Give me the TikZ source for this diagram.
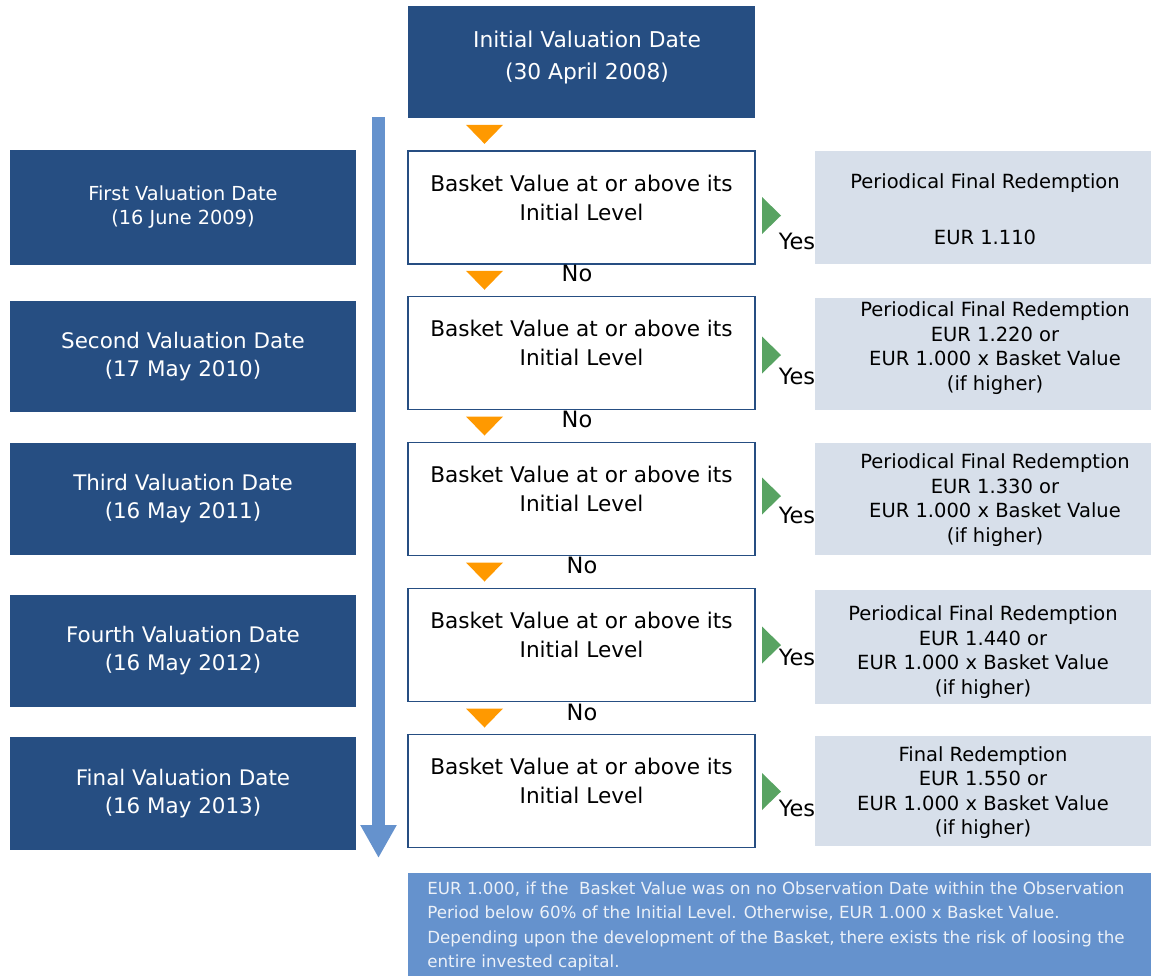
\documentclass[tikz,border=0pt]{standalone}
\usepackage{fontspec}
\setmainfont{DejaVu Sans}
\usetikzlibrary{positioning, calc, arrows.meta}

\definecolor{datebl}{RGB}{38,78,130}
\definecolor{linebl}{RGB}{101,146,205}
\definecolor{paygr}{RGB}{215,223,234}
\definecolor{noor}{RGB}{255,153,0}
\definecolor{yesgr}{RGB}{88,163,98}

\begin{document}
\begin{tikzpicture}[x=0.02cm, y=-0.02cm,
	datebox/.style={fill=datebl, text=white, align=center, inner sep=0pt,
		minimum width=6.92cm, minimum height=2.24cm, font=\fontsize{12.2}{16}\selectfont},
	checkbox/.style={draw=datebl, line width=0.8pt, fill=white, inner sep=0pt,
		minimum width=6.94cm, minimum height=2.26cm},
	checktext/.style={align=center, font=\fontsize{12.3}{16.5}\selectfont},
	paybox/.style={fill=paygr, inner sep=0pt, minimum width=6.72cm, minimum height=2.24cm},
	paytext/.style={align=center, font=\fontsize{11.1}{14}\selectfont},
	answer/.style={font=\fontsize{12.8}{14}\selectfont},
	notri/.style={fill=noor},
	yestri/.style={fill=yesgr},
	timeline/.style={draw=linebl, line width=0.26cm, -{Triangle[width=0.68cm, length=0.66cm]}},
]
	\useasboundingbox (0,0) rectangle (1151,975);

	% start
	\node[datebox, minimum width=6.94cm] (init) at (581.5,62) {};
	\node[text=white, align=center, font=\fontsize{12.4}{18.2}\selectfont] at (587,57)
		{Initial Valuation Date\\(30 April 2008)};

	% valuation dates
	\node[datebox, minimum height=2.3cm, font=\fontsize{11}{13.7}\selectfont] (d1) at (183,207.5)
		{First Valuation Date\\(16 June 2009)};
	\node[datebox, minimum height=2.22cm] (d2) at (183,356.5) {Second Valuation Date\\(17 May 2010)};
	\node[datebox] (d3) at (183,499) {Third Valuation Date\\(16 May 2011)};
	\node[datebox] (d4) at (183,651) {Fourth Valuation Date\\(16 May 2012)};
	\node[datebox, minimum height=2.26cm] (d5) at (183,793.5) {Final Valuation Date\\(16 May 2013)};

	% time axis
	\coordinate (tstart) at (378.5,117);
	\coordinate (tend) at (378.5,858);
	\draw[timeline] (tstart) -- (tend);

	% checks
	\node[checkbox] (c1) at (581.5,207.5) {};
	\node[checkbox] (c2) at (581.5,353) {};
	\node[checkbox] (c3) at (581.5,499) {};
	\node[checkbox] (c4) at (581.5,645) {};
	\node[checkbox] (c5) at (581.5,791) {};
	\foreach \c in {c1,c2,c3,c4,c5}
		\node[checktext] (\c text) at ([yshift=0.2cm]\c.center) {Basket Value at or above its\\Initial Level};

	% redemptions
	\node[paybox, minimum height=2.26cm] (p1) at (983,207.5) {};
	\node[paybox] (p2) at (983,354) {};
	\node[paybox] (p3) at (983,498.5) {};
	\node[paybox, minimum height=2.28cm] (p4) at (983,647) {};
	\node[paybox, minimum height=2.2cm] (p5) at (983,791) {};
	\node[paytext, font=\fontsize{11.1}{16}\selectfont] at (985,209)
		{Periodical Final Redemption\\[16pt]EUR 1.110};
	\node[paytext] at (995,348) {Periodical Final Redemption\\EUR 1.220 or\\EUR 1.000 x Basket Value\\(if higher)};
	\node[paytext] at (995,500) {Periodical Final Redemption\\EUR 1.330 or\\EUR 1.000 x Basket Value\\(if higher)};
	\node[paytext] at (983,652) {Periodical Final Redemption\\EUR 1.440 or\\EUR 1.000 x Basket Value\\(if higher)};
	\node[paytext] at (983,792.5) {Final Redemption\\EUR 1.550 or\\EUR 1.000 x Basket Value\\(if higher)};

	% no arrows
	\foreach \a/\b in {init/c1,c1/c2,c2/c3,c3/c4,c4/c5}
		\fill[notri] ($(\a.south)!.5!(\b.north)+(-115.5,-9.5)$) -- ++(37,0) -- ++(-18.5,19) -- cycle;
	\node[answer] (no1) at (577,273) {No};
	\node[answer] (no2) at (577,419) {No};
	\node[answer] (no3) at (582,565) {No};
	\node[answer] (no4) at (582,712) {No};

	% yes arrows
	\foreach \y/\t in {215.5/241,355/376,496/515,645/657,791.5/808} {
		\fill[yestri] (762,\y-18.5) -- (781,\y) -- (762,\y+18.5) -- cycle;
		\node[answer] at (797,\t) {Yes};
	}

	% note
	\node[fill=linebl, anchor=north west, minimum width=14.86cm, minimum height=2.2cm] (note) at (408,873) {};
	\node[anchor=north west, inner sep=0pt, align=left, text={rgb,255:red,236;green,241;blue,248},
		font=\fontsize{9.5}{14}\selectfont] at (427,881)
		{EUR 1.000, if the \ Basket Value was on no Observation Date within the Observation\\
		Period below 60\% of the Initial Level. Otherwise, EUR 1.000 x Basket Value.\\
		Depending upon the development of the Basket, there exists the risk of loosing the\\
		entire invested capital.};
\end{tikzpicture}
\end{document}
